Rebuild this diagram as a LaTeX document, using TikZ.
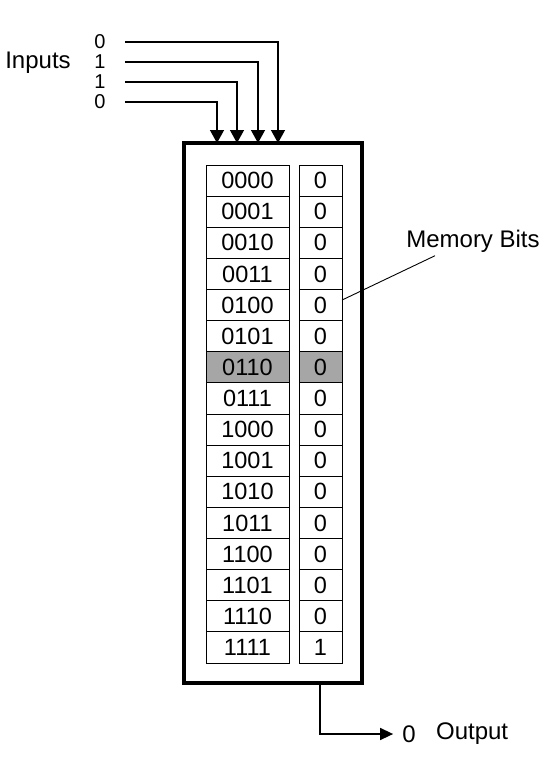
\documentclass[tikz,border=0pt]{standalone}
\usepackage{fontspec}
\setmainfont{Liberation Sans}
\usetikzlibrary{arrows.meta,positioning}

\begin{document}
\begin{tikzpicture}[
  x=1pt, y=-1pt,
  every node/.style={font=\fontsize{24}{26}\selectfont},
  cell/.style={draw, line width=0.8pt, minimum height=31.125pt, inner sep=0pt, outer sep=0pt, anchor=north west, font=\fontsize{23.5}{25}\selectfont},
  addr/.style={cell, minimum width=83pt},
  bitcell/.style={cell, minimum width=43pt},
  plain/.style={},
  hit/.style={fill=black!35},
  indigit/.style={inner sep=0pt, font=\fontsize{20}{20}\selectfont},
  wire/.style={line width=1.4pt, -{Triangle[width=14pt,length=13pt]}},
  outwire/.style={line width=1.4pt, -{Triangle[width=12pt,length=13pt]}}
]
\useasboundingbox[fill=white] (0,0) rectangle (549,758);

% the memory block
\node[draw, line width=3.5pt, outer sep=0pt, minimum width=178pt, minimum height=540pt] (rom) at (273,413) {};

% one row per address
\foreach \a/\b/\s [count=\i] in {0000/0/plain,0001/0/plain,0010/0/plain,0011/0/plain,
    0100/0/plain,0101/0/plain,0110/0/hit,0111/0/plain,1000/0/plain,1001/0/plain,
    1010/0/plain,1011/0/plain,1100/0/plain,1101/0/plain,1110/0/plain,1111/1/plain} {
  \node[addr, \s] (addr\i) at (206,{165+(\i-1)*31.125}) {\a};
  \node[bitcell, \s] (bit\i) at (299,{165+(\i-1)*31.125}) {\b};
}

% inputs
\node (inlbl) at (38,63) {Inputs};
\node[indigit] (in1) at (100,42) {0};
\node[indigit] (in2) at (100,62) {1};
\node[indigit] (in3) at (100,82) {1};
\node[indigit] (in4) at (100,102) {0};
\draw[wire] ([xshift=19pt]in1.east) -| ([xshift=94pt]rom.north west);
\draw[wire] ([xshift=19pt]in2.east) -| ([xshift=74pt]rom.north west);
\draw[wire] ([xshift=19pt]in3.east) -| ([xshift=53pt]rom.north west);
\draw[wire] ([xshift=19pt]in4.east) -| ([xshift=33pt]rom.north west);

% memory bits label
\node (membits) at (473,241) {Memory Bits};
\draw[line width=0.9pt] ([xshift=-38pt]membits.south) -- ([yshift=5pt]bit5.east);

% output
\node[inner sep=1pt] (outv) at (409,734) {0};
\node[inner sep=1pt, right=18pt of outv] (outlbl) {Output};
\draw[outwire] ([xshift=47pt]rom.south) |- ([xshift=-8pt]outv.west);
\end{tikzpicture}
\end{document}
